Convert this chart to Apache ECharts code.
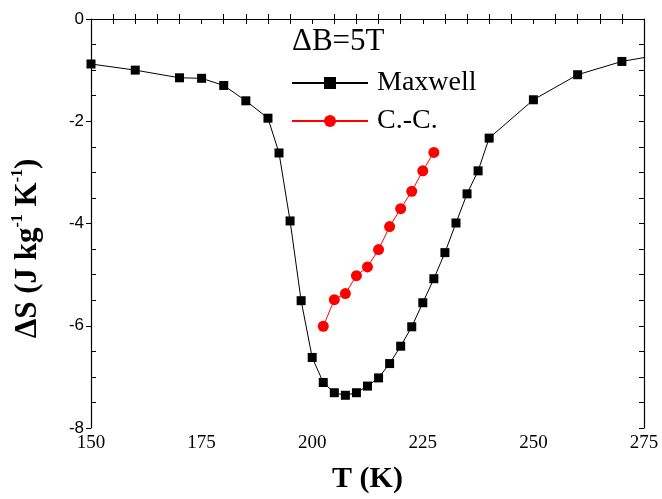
<!DOCTYPE html>
<html><head><meta charset="utf-8">
<script src="https://cdn.jsdelivr.net/npm/echarts@6/dist/echarts.min.js"></script>
<style>html,body{margin:0;padding:0;background:#fff}#c{width:662px;height:499px}</style>
</head><body><div id="c"></div>
<script>
const maxwellT = [150,160,170,175,180,185,190,192.5,195,197.5,200,202.5,205,207.5,210,212.5,215,217.5,220,222.5,225,227.5,230,232.5,235,237.5,240,250,260,270,280];
const maxwellS = [-0.88,-1.0,-1.15,-1.16,-1.30,-1.60,-1.94,-2.62,-3.95,-5.51,-6.62,-7.11,-7.31,-7.36,-7.31,-7.18,-7.02,-6.74,-6.40,-6.02,-5.55,-5.08,-4.57,-3.99,-3.42,-2.97,-2.33,-1.58,-1.09,-0.83,-0.68];
const ccT = [202.5,205,207.5,210,212.5,215,217.5,220,222.5,225,227.5];
const ccS = [-6.01,-5.49,-5.37,-5.02,-4.85,-4.51,-4.06,-3.71,-3.37,-2.97,-2.61];
const xTicks = [150,175,200,225,250,275];
const yTicks = [0,-2,-4,-6,-8];

const chart = echarts.init(document.getElementById('c'));
const serif = 'Liberation Serif';
const axLine = {show:true, lineStyle:{color:'#000', width:1.2}};
const baseX = {type:'value', min:xTicks[0], max:xTicks[xTicks.length-1], interval:xTicks[1]-xTicks[0]};
const baseY = {type:'value', min:yTicks[yTicks.length-1], max:yTicks[0], interval:yTicks[0]-yTicks[1]};
chart.setOption({
  animation:false,
  grid:{left:91, right:18, top:19, bottom:71},
  xAxis:[
    Object.assign({}, baseX, {position:'bottom', axisLine:axLine,
      axisTick:{inside:false, length:5, lineStyle:{color:'#000'}},
      minorTick:{show:true, splitNumber:5, length:-5, lineStyle:{color:'#000'}},
      splitLine:{show:false},
      axisLabel:{color:'#000', fontFamily:serif, fontSize:19, margin:6},
      name:'T (K)', nameLocation:'middle', nameGap:36,
      nameTextStyle:{color:'#000', fontFamily:serif, fontWeight:'bold', fontSize:30}}),
    Object.assign({}, baseX, {position:'top', axisLine:axLine,
      axisTick:{inside:true, length:5, lineStyle:{color:'#000'}},
      minorTick:{show:true, splitNumber:5, length:5, lineStyle:{color:'#000'}},
      splitLine:{show:false}, axisLabel:{show:false}})
  ],
  yAxis:[
    Object.assign({}, baseY, {position:'left', axisLine:axLine,
      axisTick:{inside:false, length:5, lineStyle:{color:'#000'}},
      minorTick:{show:true, splitNumber:4, length:-5, lineStyle:{color:'#000'}},
      splitLine:{show:false},
      axisLabel:{color:'#000', fontFamily:'Liberation Sans', fontSize:17, margin:7},
      name:'{m|ΔS (J kg}{s|-1}{m| K}{s|-1}{m|)}', nameLocation:'middle', nameGap:48,
      nameTextStyle:{color:'#000', fontFamily:serif, fontWeight:'bold', fontSize:31, padding:[0,50,0,0],
        rich:{m:{fontFamily:serif, fontWeight:'bold', fontSize:31, lineHeight:33, verticalAlign:'bottom'},
              s:{fontFamily:serif, fontWeight:'bold', fontSize:16, lineHeight:33, verticalAlign:'top'}}}}),
    Object.assign({}, baseY, {position:'right', axisLine:axLine,
      axisTick:{inside:true, length:5, lineStyle:{color:'#000'}},
      minorTick:{show:true, splitNumber:4, length:5, lineStyle:{color:'#000'}},
      splitLine:{show:false}, axisLabel:{show:false}})
  ],
  legend:{orient:'vertical', left:291, top:69, padding:0, itemWidth:76, itemHeight:15, itemGap:10,
    textStyle:{fontFamily:serif, fontSize:28, color:'#000', padding:[0,0,0,4]},
    data:['Maxwell','C.-C.']},
  graphic:[{type:'text', left:292, top:26, style:{text:'ΔB=5T', font:'31px "Liberation Serif"', fill:'#000'}}],
  series:[
    {name:'Maxwell', type:'line', clip:true, data:maxwellT.map((t,i)=>[t,maxwellS[i]]),
      symbol:'rect', symbolSize:9, itemStyle:{color:'#000'}, lineStyle:{color:'#000', width:1}},
    {name:'C.-C.', type:'line', data:ccT.map((t,i)=>[t,ccS[i]]),
      symbol:'circle', symbolSize:11, itemStyle:{color:'#ff0000'}, lineStyle:{color:'#ff0000', width:1}}
  ]
});
</script></body></html>
